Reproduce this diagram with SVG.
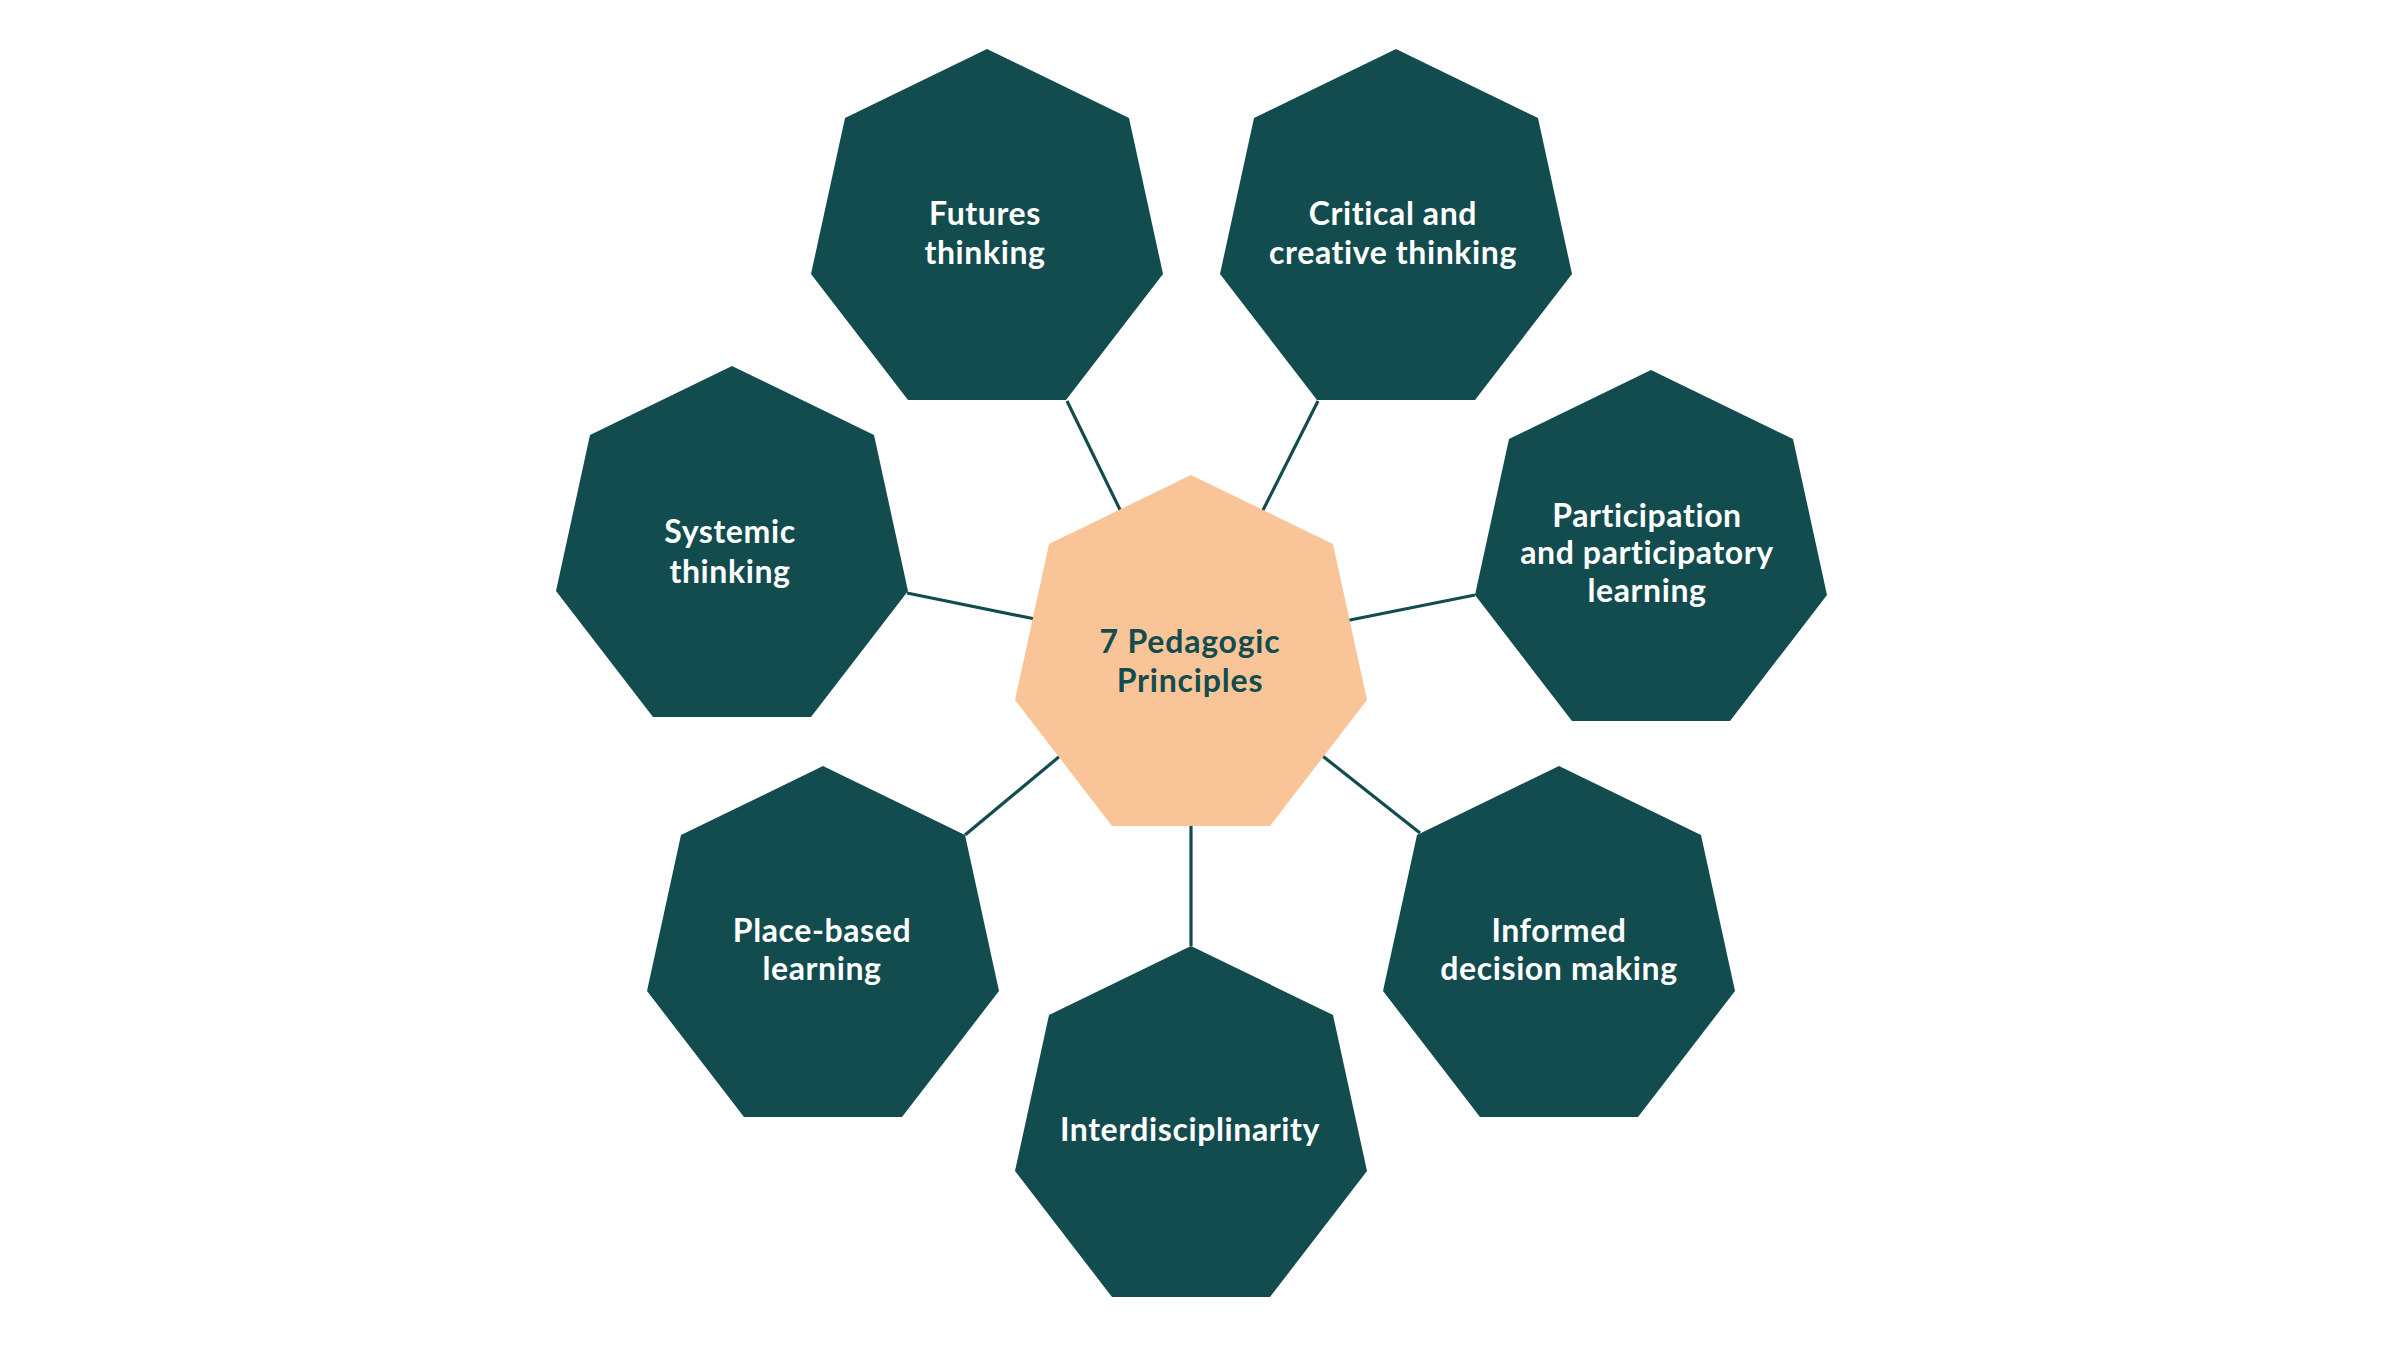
<svg xmlns="http://www.w3.org/2000/svg" width="2400" height="1350" viewBox="0 0 2400 1350">
<defs>
<polygon id="hept" points="0,-185 142,-116 176,40 79,166 -79,166 -176,40 -142,-116"/>
</defs>
<style>
.outer { fill: #134c4e; }
.core { fill: #f9c497; }
.conn { stroke: #134c4e; stroke-width: 3.2; fill: none; }
.lbl { font-family: Lato, "Open Sans", sans-serif; font-weight: 700; font-size: 32px; letter-spacing: 0.6px; fill: #ffffff; text-anchor: middle; }
.clbl { font-family: Lato, "Open Sans", sans-serif; font-weight: 700; font-size: 32px; letter-spacing: 0.8px; fill: #134c4e; text-anchor: middle; }
</style>
<rect width="2400" height="1350" fill="#ffffff"/>
<g id="connectors">
<line class="conn" x1="1067" y1="401" x2="1125" y2="520"/>
<line class="conn" x1="1318" y1="401" x2="1258" y2="520"/>
<line class="conn" x1="907" y1="593" x2="1045" y2="621"/>
<line class="conn" x1="1475" y1="595" x2="1340" y2="622"/>
<line class="conn" x1="965" y1="835" x2="1066" y2="751"/>
<line class="conn" x1="1191" y1="946" x2="1191" y2="818"/>
<line class="conn" x1="1420" y1="833" x2="1315" y2="750"/>
</g>
<g id="center">
<use href="#hept" class="core" x="1191" y="660"/>
<text class="clbl" x="1190" y="653">7 Pedagogic</text>
<text class="clbl" x="1190" y="692">Principles</text>
</g>
<g id="futures">
<use href="#hept" class="outer" x="987" y="234"/>
<text class="lbl" x="985" y="225">Futures</text>
<text class="lbl" x="985" y="264">thinking</text>
</g>
<g id="critical">
<use href="#hept" class="outer" x="1396" y="234"/>
<text class="lbl" x="1393" y="225">Critical and</text>
<text class="lbl" x="1393" y="264">creative thinking</text>
</g>
<g id="systemic">
<use href="#hept" class="outer" x="732" y="551"/>
<text class="lbl" x="730" y="543">Systemic</text>
<text class="lbl" x="730" y="583">thinking</text>
</g>
<g id="participation">
<use href="#hept" class="outer" x="1651" y="555"/>
<text class="lbl" x="1647" y="527">Participation</text>
<text class="lbl" x="1647" y="564">and participatory</text>
<text class="lbl" x="1647" y="602">learning</text>
</g>
<g id="place">
<use href="#hept" class="outer" x="823" y="951"/>
<text class="lbl" x="822" y="942">Place-based</text>
<text class="lbl" x="822" y="980">learning</text>
</g>
<g id="inter">
<use href="#hept" class="outer" x="1191" y="1131"/>
<text class="lbl" x="1190" y="1141">Interdisciplinarity</text>
</g>
<g id="informed">
<use href="#hept" class="outer" x="1559" y="951"/>
<text class="lbl" x="1559" y="942">Informed</text>
<text class="lbl" x="1559" y="980">decision making</text>
</g>
</svg>
